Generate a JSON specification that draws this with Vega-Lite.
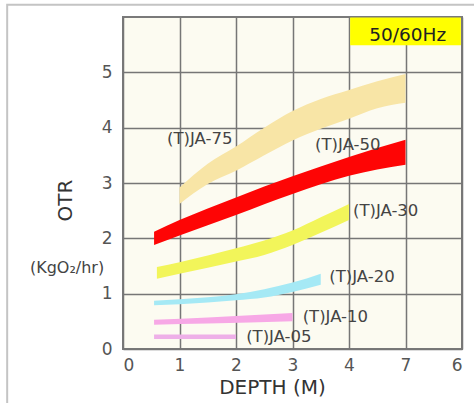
{
  "$schema": "https://vega.github.io/schema/vega-lite/v6.json",
  "width": 339,
  "height": 332,
  "autosize": {"type": "none"},
  "padding": {"left": 123, "top": 17, "right": 12, "bottom": 54},
  "background": "white",
  "config": {
    "view": {"fill": "#fcfbf1", "stroke": "#7a7a7a", "strokeWidth": 2},
    "font": "DejaVu Sans"
  },
  "datasets": {
    "bands": [
      {"model": "(T)JA-75", "depth": 1.0, "low": 2.62, "high": 2.92},
      {"model": "(T)JA-75", "depth": 1.5, "low": 2.98, "high": 3.35},
      {"model": "(T)JA-75", "depth": 2.0, "low": 3.22, "high": 3.66},
      {"model": "(T)JA-75", "depth": 2.5, "low": 3.5, "high": 4.0},
      {"model": "(T)JA-75", "depth": 3.0, "low": 3.77, "high": 4.3},
      {"model": "(T)JA-75", "depth": 3.5, "low": 3.98, "high": 4.52},
      {"model": "(T)JA-75", "depth": 4.0, "low": 4.16, "high": 4.68},
      {"model": "(T)JA-75", "depth": 4.5, "low": 4.35, "high": 4.84},
      {"model": "(T)JA-75", "depth": 5.0, "low": 4.45, "high": 4.97},
      {"model": "(T)JA-50", "depth": 0.55, "low": 1.88, "high": 2.12},
      {"model": "(T)JA-50", "depth": 1.0, "low": 2.05, "high": 2.33},
      {"model": "(T)JA-50", "depth": 2.0, "low": 2.42, "high": 2.74},
      {"model": "(T)JA-50", "depth": 3.0, "low": 2.8, "high": 3.12},
      {"model": "(T)JA-50", "depth": 4.0, "low": 3.13, "high": 3.47},
      {"model": "(T)JA-50", "depth": 5.0, "low": 3.33, "high": 3.78},
      {"model": "(T)JA-30", "depth": 0.6, "low": 1.27, "high": 1.48},
      {"model": "(T)JA-30", "depth": 1.0, "low": 1.36, "high": 1.57},
      {"model": "(T)JA-30", "depth": 2.0, "low": 1.58, "high": 1.82},
      {"model": "(T)JA-30", "depth": 2.5, "low": 1.7, "high": 1.96},
      {"model": "(T)JA-30", "depth": 3.0, "low": 1.88, "high": 2.14},
      {"model": "(T)JA-30", "depth": 3.5, "low": 2.1, "high": 2.38},
      {"model": "(T)JA-30", "depth": 4.0, "low": 2.33, "high": 2.62},
      {"model": "(T)JA-20", "depth": 0.55, "low": 0.79, "high": 0.87},
      {"model": "(T)JA-20", "depth": 1.0, "low": 0.81, "high": 0.9},
      {"model": "(T)JA-20", "depth": 2.0, "low": 0.88, "high": 0.99},
      {"model": "(T)JA-20", "depth": 2.5, "low": 0.93, "high": 1.08},
      {"model": "(T)JA-20", "depth": 3.0, "low": 1.03, "high": 1.2},
      {"model": "(T)JA-20", "depth": 3.5, "low": 1.16, "high": 1.36},
      {"model": "(T)JA-10", "depth": 0.55, "low": 0.44, "high": 0.53},
      {"model": "(T)JA-10", "depth": 1.5, "low": 0.46, "high": 0.57},
      {"model": "(T)JA-10", "depth": 3.0, "low": 0.5, "high": 0.65},
      {"model": "(T)JA-05", "depth": 0.55, "low": 0.18, "high": 0.26},
      {"model": "(T)JA-05", "depth": 2.0, "low": 0.18, "high": 0.26}
    ],
    "labels": [
      {"model": "(T)JA-75", "depth": 0.78, "otr": 3.8},
      {"model": "(T)JA-50", "depth": 3.4, "otr": 3.69},
      {"model": "(T)JA-30", "depth": 4.07, "otr": 2.49},
      {"model": "(T)JA-20", "depth": 3.65, "otr": 1.3},
      {"model": "(T)JA-10", "depth": 3.18, "otr": 0.58},
      {"model": "(T)JA-05", "depth": 2.18, "otr": 0.21}
    ]
  },
  "encoding": {
    "x": {
      "type": "quantitative",
      "scale": {"domain": [0, 6], "nice": false, "zero": false},
      "axis": {
        "title": "DEPTH (M)",
        "values": [0, 1, 2, 3, 4, 5, 6],
        "labelExpr": "datum.value == 5 ? '7' : datum.label",
        "grid": true, "gridColor": "#767676", "gridWidth": 1.5,
        "domain": false, "ticks": false,
        "labelFontSize": 17, "labelColor": "#555555", "labelPadding": 8,
        "titleFontSize": 20, "titleFontWeight": "normal", "titleColor": "#333333",
        "titleX": 149, "titleY": 38, "titleBaseline": "middle"
      }
    },
    "y": {
      "type": "quantitative",
      "scale": {"domain": [0, 6], "nice": false, "zero": false},
      "axis": {
        "title": "OTR",
        "values": [0, 1, 2, 3, 4, 5],
        "grid": true, "gridColor": "#767676", "gridWidth": 1.5,
        "domain": false, "ticks": false,
        "labelFontSize": 17, "labelColor": "#555555", "labelPadding": 11,
        "titleFontSize": 20, "titleFontWeight": "normal", "titleColor": "#333333",
        "titleX": -58, "titleY": 183, "titleAlign": "center", "titleBaseline": "middle", "titleAngle": 270
      }
    }
  },
  "layer": [
    {
      "data": {"name": "bands"},
      "mark": {"type": "area", "interpolate": "monotone", "opacity": 1},
      "encoding": {
        "x": {"field": "depth", "type": "quantitative"},
        "y": {"field": "high", "type": "quantitative"},
        "y2": {"field": "low"},
        "color": {
          "field": "model", "type": "nominal", "legend": null,
          "scale": {
            "domain": ["(T)JA-75", "(T)JA-50", "(T)JA-30", "(T)JA-20", "(T)JA-10", "(T)JA-05"],
            "range": ["#f8e5a6", "#fe0505", "#f2f55a", "#a5e9f5", "#f7a8e6", "#eeb0e8"]
          }
        }
      }
    },
    {
      "data": {"name": "labels"},
      "mark": {"type": "text", "align": "left", "baseline": "middle", "fontSize": 16.5, "color": "#444444"},
      "encoding": {
        "x": {"field": "depth", "type": "quantitative"},
        "y": {"field": "otr", "type": "quantitative"},
        "text": {"field": "model"}
      }
    },
    {
      "data": {"values": [{"note": "(KgO₂/hr)"}]},
      "mark": {"type": "text", "align": "center", "baseline": "middle", "fontSize": 16, "color": "#444444"},
      "encoding": {
        "x": {"datum": -0.99, "type": "quantitative"},
        "y": {"datum": 1.46, "type": "quantitative"},
        "text": {"field": "note"}
      }
    },
    {
      "data": {"values": [{"note": "50/60Hz"}]},
      "mark": {"type": "rect", "color": "#ffff00"},
      "encoding": {
        "x": {"datum": 4.02, "type": "quantitative"},
        "x2": {"datum": 5.98},
        "y": {"datum": 5.99, "type": "quantitative"},
        "y2": {"datum": 5.49}
      }
    },
    {
      "data": {"values": [{"note": "50/60Hz"}]},
      "mark": {"type": "text", "align": "center", "baseline": "middle", "fontSize": 18.5, "color": "#222222"},
      "encoding": {
        "x": {"datum": 5.04, "type": "quantitative"},
        "y": {"datum": 5.68, "type": "quantitative"},
        "text": {"field": "note"}
      }
    },
    {
      "data": {"values": [{"note": "frame"}]},
      "mark": {"type": "rect", "fill": null, "fillOpacity": 0, "stroke": "#c4c4c4", "strokeWidth": 2},
      "encoding": {
        "x": {"datum": -2.05, "type": "quantitative"},
        "x2": {"datum": 7.5},
        "y": {"datum": 6.22, "type": "quantitative"},
        "y2": {"datum": -1.5}
      }
    }
  ]
}
